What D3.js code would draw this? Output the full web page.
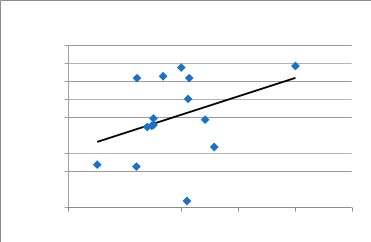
<!DOCTYPE html>
<html><head><meta charset="utf-8">
<script src="https://cdn.jsdelivr.net/npm/d3@7"></script>
<style>html,body{margin:0;padding:0;background:#fff;}svg{display:block;}</style>
</head><body>
<svg id="c" width="371" height="242"></svg>
<script>
const xValues = [0.52, 1.21, 1.22, 1.40, 1.48, 1.51, 1.51, 1.68, 2.00, 2.14, 2.12, 2.10, 2.42, 2.58, 4.01];
const yValues = [2.37, 2.26, 7.18, 4.46, 4.53, 4.57, 4.94, 7.28, 7.76, 7.18, 6.02, 0.35, 4.87, 3.35, 7.85];
const xTicks = [0, 2, 3, 4, 5];
const yTicks = [0, 2, 3, 5, 6, 7, 8, 9];

const svg = d3.select("#c");
const x = d3.scaleLinear().domain([0, 5]).range([67.7, 351.7]);
const y = d3.scaleLinear().domain([0, 9]).range([207.3, 45.3]);

// outer border (left and top)
svg.append("path").attr("d","M0.5,242 V0.5 H371").attr("fill","none").attr("stroke","#8c8c8c").attr("stroke-width",1);

// gridlines
svg.append("g").selectAll("line").data(yTicks.filter(d=>d>0)).join("line")
  .attr("x1", x(0)).attr("x2", x(5))
  .attr("y1", d=>Math.round(y(d))+0.5).attr("y2", d=>Math.round(y(d))+0.5)
  .attr("stroke", (d,i)=> i%2===0 ? "#9a9a9a" : "#b4b4b4").attr("stroke-width",1);

// y axis
const yAxis = d3.axisLeft(y).tickValues(yTicks).tickSize(4).tickFormat("");
const gy = svg.append("g").attr("transform",`translate(${Math.round(x(0))+0.5},0)`).call(yAxis);
gy.selectAll("line,path").attr("stroke","#a0a0a0");
gy.select(".domain").attr("d",`M0,${y(9)}V${y(0)}`);
gy.selectAll(".tick").attr("transform",d=>`translate(0,${Math.round(y(d))+0.5})`);

// x axis
const xAxis = d3.axisBottom(x).tickValues(xTicks).tickSize(4).tickFormat("");
const gx = svg.append("g").attr("transform",`translate(0,${Math.round(y(0))+0.5})`).call(xAxis);
gx.selectAll("line,path").attr("stroke","#8c8c8c");
gx.select(".domain").attr("d",`M${x(0)},0H${x(5)}`);
gx.selectAll(".tick").attr("transform",d=>`translate(${Math.round(x(d))+0.5},0)`);

// trendline (least squares)
const n = xValues.length;
const mx = d3.mean(xValues), my = d3.mean(yValues);
let sxy=0, sxx=0;
for (let i=0;i<n;i++){ sxy+=(xValues[i]-mx)*(yValues[i]-my); sxx+=(xValues[i]-mx)**2; }
const b = sxy/sxx, a = my - b*mx;
const x0 = d3.min(xValues), x1 = d3.max(xValues);
svg.append("line").attr("x1",x(x0)).attr("y1",y(a+b*x0)).attr("x2",x(x1)).attr("y2",y(a+b*x1))
  .attr("stroke","#000").attr("stroke-width",2);

// points
const sym = d3.symbol().type(d3.symbolDiamond2).size(50);
svg.append("g").selectAll("path").data(xValues.map((v,i)=>[v,yValues[i]])).join("path")
  .attr("d", sym)
  .attr("transform", d=>`translate(${x(d[0])},${y(d[1])})`)
  .attr("fill","#1a72c6");
</script>
</body></html>
